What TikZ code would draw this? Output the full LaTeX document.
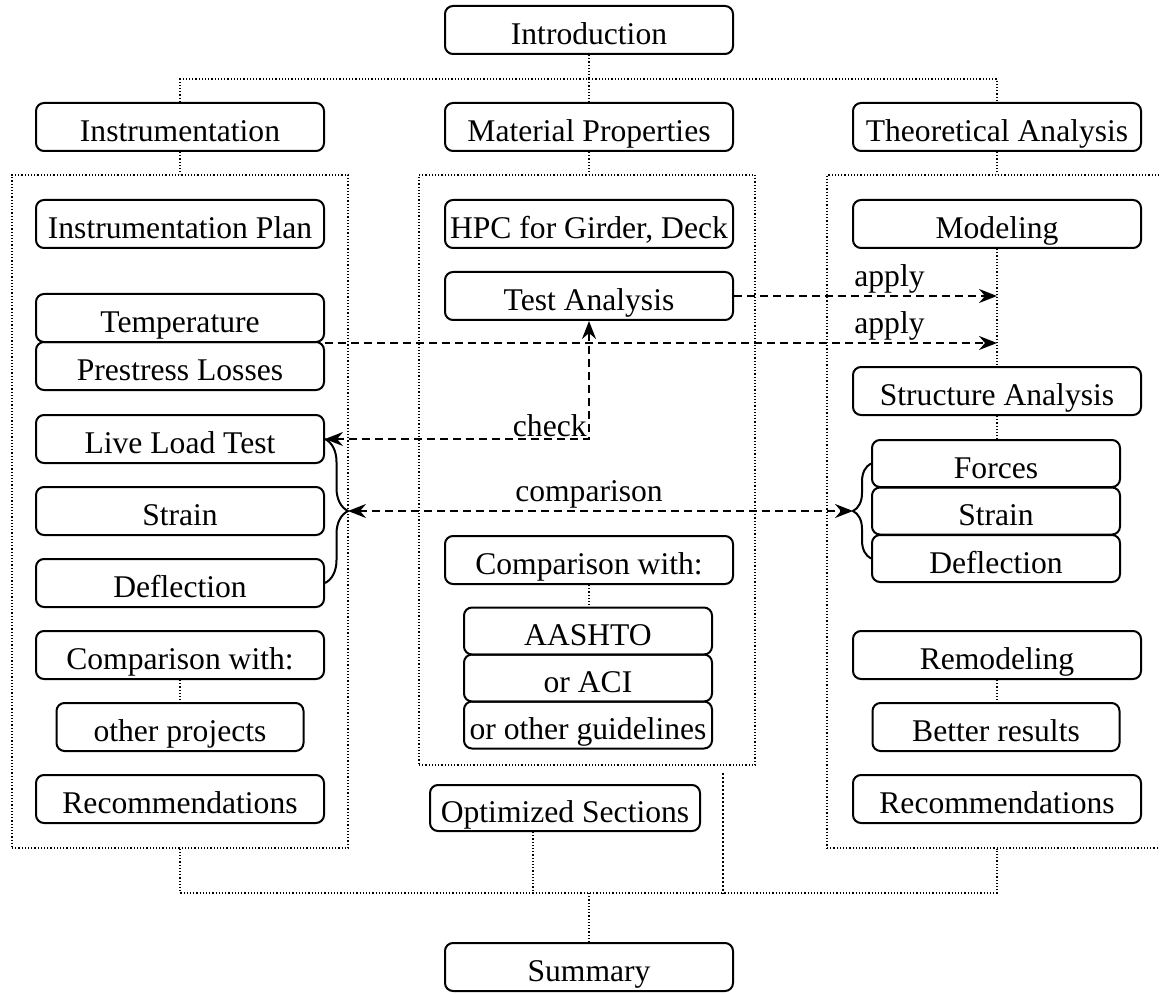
\documentclass[tikz,border=0pt]{standalone}
\usepackage{fontspec}
\setmainfont{Liberation Serif}
\usepackage{tikz}
\usetikzlibrary{arrows.meta}
\usetikzlibrary{decorations.pathreplacing}

\tikzset{
   box/.style={draw, rounded corners=4pt, line width=1pt, inner sep=0pt,
      minimum width=144pt, minimum height=24pt, text height=14.5pt, text depth=0pt},
   subbox/.style={box, minimum width=123.5pt},
   stackbox/.style={box, minimum width=124pt, minimum height=23.5pt},
   group/.style={draw, densely dotted, line width=0.6pt, inner sep=0pt},
   link/.style={densely dotted, line width=0.6pt},
   flow/.style={line width=1pt, dash pattern=on 4pt off 2.5pt,
      >={Stealth[length=9pt, width=7pt, inset=3pt]}},
   lbl/.style={inner sep=1pt},
   curly/.style={decorate, decoration={brace, amplitude=#1}, line width=1pt},
}

\begin{document}
\begin{tikzpicture}[x=0.5pt, y=-0.5pt, font=\fontsize{15.8}{19}\selectfont]
      \useasboundingbox (0,0) rectangle (1160,994);

      \node (intro) at (589,30) [box] {Introduction};
      \node (instr) at (180,127) [box] {Instrumentation};
      \node (matprop) at (589,127) [box] {Material Properties};
      \node (theo) at (997,127) [box] {Theoretical Analysis};

      \node (leftgrp) at (180,511.5) [group, minimum width=168pt, minimum height=336.5pt] {};
      \node (midgrp) at (587,470) [group, minimum width=168pt, minimum height=295pt] {};
      \node (rightgrp) at (997,511.5) [group, minimum width=170pt, minimum height=336.5pt] {};

      \node (plan) at (180,224) [box] {Instrumentation Plan};
      \node (temp) at (180,318) [box] {Temperature};
      \node (loss) at (180,366) [box] {Prestress Losses};
      \node (live) at (180,439) [box] {Live Load Test};
      \node (strainL) at (180,511) [box] {Strain};
      \node (deflL) at (180,583) [box] {Deflection};
      \node (cmpL) at (180,655) [box] {Comparison with:};
      \node (other) at (180,727) [subbox] {other projects};
      \node (recL) at (180,799) [box] {Recommendations};

      \node (hpc) at (589,224) [box] {HPC for Girder, Deck};
      \node (test) at (589,296) [box] {Test Analysis};
      \node (cmpM) at (589,560) [box] {Comparison with:};
      \node (aashto) at (588,631) [stackbox] {AASHTO};
      \node (aci) at (588,678) [stackbox] {or ACI};
      \node (guide) at (588,725) [stackbox] {or other guidelines};
      \node (opt) at (565,808) [box, minimum width=135pt, minimum height=23pt] {Optimized Sections};
      \node (summary) at (589,967) [box] {Summary};

      \node (model) at (997,224) [box] {Modeling};
      \node (struct) at (997,391) [box] {Structure Analysis};
      \node (forces) at (996,463.5) [stackbox] {Forces};
      \node (strainR) at (996,511) [stackbox] {Strain};
      \node (deflR) at (996,558.5) [stackbox] {Deflection};
      \node (remodel) at (997,655) [box] {Remodeling};
      \node (better) at (996,727) [subbox] {Better results};
      \node (recR) at (997,799) [box] {Recommendations};

      \coordinate (top) at (589,79);
      \coordinate (bottom) at (589,893);
      \draw [link] (intro.south) -- (top);
      \draw [link] (instr.north) |- (top) -| (theo.north);
      \draw [link] (top) -- (matprop.north);
      \draw [link] (instr.south) -- (leftgrp.north);
      \draw [link] (matprop.south) -- (matprop.south |- midgrp.north);
      \draw [link] (theo.south) -- (theo.south |- rightgrp.north);
      \draw [link] (model.south) -- (struct.north);
      \draw [link] (struct.south) -- (struct.south |- forces.north);
      \draw [link] (cmpL.south) -- (other.north);
      \draw [link] (cmpM.south) -- (cmpM.south |- aashto.north);
      \draw [link] (remodel.south) -- (remodel.south |- better.north);
      \draw [link] (leftgrp.south) |- (bottom) -| (rightgrp.south);
      \draw [link] (bottom) -- (summary.north);
      \draw [link] ([xshift=-16pt]opt.south) -- ([xshift=-16pt]opt.south |- bottom);
      \draw [link, line width=1pt] ([xshift=-16.5pt, yshift=-3.5pt]midgrp.south east)
         -- ([xshift=-16.5pt]midgrp.south east |- bottom);

      \draw [flow, ->] (test.east) -- (test.east -| model.south);
      \node (apply1) at (model.south west |- test.east) [lbl, anchor=south west] {apply};
      \draw [flow, ->] (temp.south east) -- (temp.south east -| model.south);
      \node (apply2) at (model.south west |- temp.south east) [lbl, anchor=south west] {apply};
      \draw [flow, <->] (live.east) -| (test.south);
      \node (check) at (test.south |- live.east) [lbl, anchor=south east] {check};

      \draw [curly=11.5pt] (live.east) -- (deflL.east);
      \coordinate (ltip) at ([xshift=11.5pt]strainL.east);
      \draw [curly=9pt] (deflR.west) -- (forces.west);
      \coordinate (rtip) at ([xshift=-9pt]strainR.west);
      \draw [flow, <->] (ltip) -- (rtip);
      \node (comparison) at (ltip -| test.south) [lbl, anchor=south] {comparison};
   \end{tikzpicture}
\end{document}
